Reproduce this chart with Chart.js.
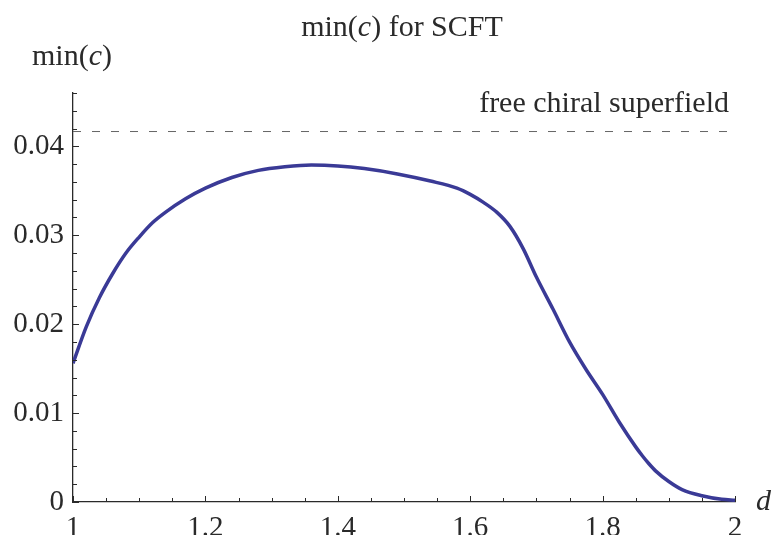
<!DOCTYPE html>
<html>
<head>
<meta charset="utf-8">
<title>min(c) for SCFT</title>
<script src="https://cdn.jsdelivr.net/npm/chart.js@4.4.1/dist/chart.umd.min.js"></script>
<style>
    html, body { margin: 0; padding: 0; background: #fff; }
    #wrap { width: 772px; height: 535px; }
</style>
</head>
<body>
<div id="wrap"><canvas id="minCChart" width="772" height="535"></canvas></div>
<script>
// dimension d and the lower bound on c
const dValues = [1.00, 1.02, 1.04, 1.06, 1.08, 1.10, 1.12, 1.14, 1.17, 1.20, 1.24, 1.28, 1.32, 1.36,
    1.40, 1.44, 1.49, 1.54, 1.58, 1.60, 1.62, 1.64, 1.66, 1.68, 1.70, 1.725, 1.75, 1.775, 1.80,
    1.825, 1.85, 1.86, 1.87, 1.88, 1.90, 1.92, 1.95, 1.98, 2.00];
const minC = [0.0156, 0.0197, 0.0230, 0.0257, 0.0280, 0.0298, 0.0314, 0.0326, 0.0341, 0.0353, 0.0365, 0.0373, 0.0377, 0.0379,
    0.0378, 0.0375, 0.0369, 0.0361, 0.0353, 0.0346, 0.0337, 0.0326, 0.0310, 0.0285, 0.0253, 0.0217, 0.0180, 0.0149, 0.0121,
    0.0090, 0.0062, 0.0052, 0.0043, 0.0035, 0.0023, 0.0014, 0.0007, 0.0003, 0.0002];

// free chiral superfield reference value
const freeChiralC = 1 / 24;

const xTickValues = [1, 1.2, 1.4, 1.6, 1.8, 2];
const yTickValues = [0, 0.01, 0.02, 0.03, 0.04];
const xMinorStep = 0.05;
const yMinorStep = 0.002;

const serif = "'Liberation Serif', 'Times New Roman', 'DejaVu Serif', serif";
const inkColor = "#2a2a2a";

// draws a run of text pieces, some italic, starting at x
function drawPieces(ctx, pieces, x, y, size, align) {
    let total = 0;
    pieces.forEach(p => {
        ctx.font = (p.italic ? "italic " : "") + size + "px " + serif;
        p.w = ctx.measureText(p.text).width;
        total += p.w;
    });
    let cx = align === "center" ? x - total / 2 : align === "right" ? x - total : x;
    ctx.textAlign = "left";
    ctx.textBaseline = "alphabetic";
    pieces.forEach(p => {
        ctx.font = (p.italic ? "italic " : "") + size + "px " + serif;
        ctx.fillText(p.text, cx, y);
        cx += p.w;
    });
}

// inward tick marks, title and labels
const frameDecor = {
    id: "frameDecor",
    afterDraw(chart) {
        const ctx = chart.ctx;
        const xs = chart.scales.x;
        const ys = chart.scales.y;
        const area = chart.chartArea;
        ctx.save();
        ctx.strokeStyle = inkColor;
        ctx.lineWidth = 1;

        for (let i = 0; i <= Math.round((xs.max - xs.min) / xMinorStep); i++) {
            const v = xs.min + i * xMinorStep;
            const major = xTickValues.some(t => Math.abs(t - v) < 1e-9);
            const px = Math.round(xs.getPixelForValue(v)) + 0.5;
            ctx.beginPath();
            ctx.moveTo(px, area.bottom);
            ctx.lineTo(px, area.bottom - (major ? 6 : 4));
            ctx.stroke();
        }
        for (let i = 0; i <= Math.round((ys.max - ys.min) / yMinorStep); i++) {
            const v = ys.min + i * yMinorStep;
            const major = yTickValues.some(t => Math.abs(t - v) < 1e-9);
            const py = Math.round(ys.getPixelForValue(v)) + 0.5;
            ctx.beginPath();
            ctx.moveTo(area.left, py);
            ctx.lineTo(area.left + (major ? 6 : 4), py);
            ctx.stroke();
        }

        ctx.fillStyle = inkColor;
        drawPieces(ctx, [{ text: "min(" }, { text: "c", italic: true }, { text: ") for SCFT" }], 402, 36, 30, "center");
        drawPieces(ctx, [{ text: "min(" }, { text: "c", italic: true }, { text: ")" }], 32, 65, 30, "left");
        drawPieces(ctx, [{ text: "free chiral superfield" }], 729, 112, 30, "right");
        drawPieces(ctx, [{ text: "d", italic: true }], 756, 510, 30, "left");
        ctx.restore();
    }
};

function buildChart() {
    new Chart(document.getElementById("minCChart").getContext("2d"), {
        type: "line",
        data: {
            datasets: [
                {
                    label: "min(c)",
                    data: dValues.map((d, i) => ({ x: d, y: minC[i] })),
                    borderColor: "#3a3a96",
                    borderWidth: 3.5,
                    pointRadius: 0,
                    cubicInterpolationMode: "monotone",
                    fill: false
                },
                {
                    label: "free chiral superfield",
                    data: [{ x: 1, y: freeChiralC }, { x: 1.99, y: freeChiralC }],
                    borderColor: "#666",
                    borderWidth: 1,
                    borderDash: [8, 11],
                    pointRadius: 0,
                    fill: false
                }
            ]
        },
        options: {
            responsive: false,
            animation: false,
            layout: { padding: { top: 93, right: 37, left: 0, bottom: 0 } },
            plugins: { legend: { display: false }, tooltip: { enabled: false } },
            scales: {
                x: {
                    type: "linear",
                    min: 1,
                    max: 2,
                    grid: { display: false, drawTicks: false },
                    border: { display: true, color: inkColor, width: 1.3 },
                    afterBuildTicks: scale => { scale.ticks = xTickValues.map(v => ({ value: v })); },
                    afterFit: scale => { scale.height = 33; },
                    ticks: {
                        autoSkip: false,
                        maxRotation: 0,
                        padding: 9,
                        color: inkColor,
                        font: { family: serif, size: 29 },
                        callback: v => String(v)
                    }
                },
                y: {
                    type: "linear",
                    min: 0,
                    max: 0.046,
                    grid: { display: false, drawTicks: false },
                    border: { display: true, color: inkColor, width: 1.3 },
                    afterBuildTicks: scale => { scale.ticks = yTickValues.map(v => ({ value: v })); },
                    afterFit: scale => { scale.width = 73; },
                    ticks: {
                        padding: 9,
                        color: inkColor,
                        font: { family: serif, size: 29 },
                        callback: v => String(v)
                    }
                }
            }
        },
        plugins: [frameDecor]
    });
}

// make sure the serif face is ready before the canvas is painted
Promise.all([
    document.fonts.load("29px 'Liberation Serif'"),
    document.fonts.load("italic 29px 'Liberation Serif'")
]).then(buildChart, buildChart);
</script>
</body>
</html>
